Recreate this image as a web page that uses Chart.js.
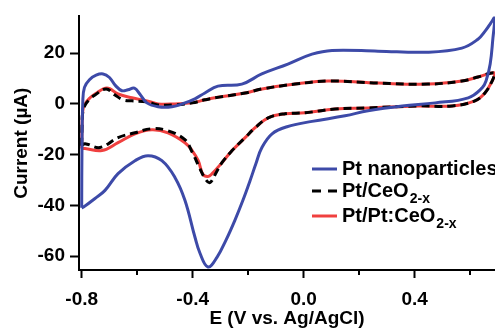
<!DOCTYPE html>
<html>
<head>
<meta charset="utf-8">
<script src="https://cdn.jsdelivr.net/npm/chart.js@4.4.1/dist/chart.umd.min.js"></script>
<style>
  body { margin: 0; background: #fff; }
  #wrap { width: 495px; height: 334px; position: relative; }
</style>
</head>
<body>
<div id="wrap"><canvas id="cvChart"></canvas></div>
<script>
// Pt nanoparticles (blue), one closed CV loop
const ptNanoE = [-0.800, -0.799, -0.796, -0.790, -0.772, -0.748, -0.723, -0.700, -0.678, -0.655, -0.633, -0.610, -0.590, -0.565, -0.525, -0.475, -0.428, -0.392, -0.356, -0.309, -0.223, -0.151, -0.057, 0.030, 0.102, 0.268, 0.448, 0.570, 0.628, 0.653, 0.678, 0.689,
  0.682, 0.672, 0.657, 0.643, 0.593, 0.474, 0.355, 0.232, 0.149, 0.030, -0.060, -0.114, -0.151, -0.172, -0.193, -0.219, -0.248, -0.280, -0.312, -0.345, -0.374, -0.392, -0.428, -0.464, -0.511, -0.561, -0.608, -0.669, -0.716, -0.752, -0.795, -0.800];
const ptNanoI = [-41, -18, 1, 6.5, 9.5, 11.3, 11.8, 10.4, 7.2, 5.2, 5.6, 6.2, 3.8, 0.4, -1.1, -1.1, 0.4, 2, 4.3, 7, 7.8, 11.8, 15.7, 19.6, 21.1, 20.8, 20.4, 22, 25.5, 28.6, 32.5, 34.5,
  26, 15.7, 9, 6.3, 2.4, 0.4, -0.8, -2.7, -4.7, -6.9, -9, -11.8, -17.3, -23.5, -30.2, -38, -45.9, -53.7, -60.4, -64.3, -58.8, -52.5, -38, -29, -22.4, -20.4, -22.4, -27.5, -34.1, -37.3, -40.8, -41];

// Pt/CeO2-x (black dashed)
const ptCeoE = [-0.800, -0.799, -0.796, -0.788, -0.770, -0.752, -0.712, -0.680, -0.650, -0.619, -0.565, -0.525, -0.464, -0.402, -0.356, -0.320, -0.211, -0.150, -0.031, 0.088, 0.268, 0.448, 0.570, 0.628, 0.689,
  0.679, 0.653, 0.617, 0.535, 0.413, 0.232, 0.113, 0.005, -0.067, -0.128, -0.175, -0.211, -0.258, -0.294, -0.320, -0.337, -0.352, -0.374, -0.402, -0.428, -0.489, -0.547, -0.608, -0.669, -0.734, -0.788, -0.800];
const ptCeoI = [-16.5, -10, -3, -0.5, 2, 3.5, 5.9, 3.5, 1.6, 1.2, 0.8, -0.4, -0.4, 0.4, 1.6, 2.4, 4.3, 5.9, 7.8, 9, 8.2, 7.8, 9, 10.6, 12.2,
  9, 4.3, 1.2, -0.8, -0.8, -1.6, -2, -3.5, -3.9, -5.5, -9.4, -13.3, -18.4, -23.1, -28, -31, -30, -25.5, -19, -14.1, -10.6, -9.8, -11.4, -13.3, -17.2, -15.7, -16.5];

// Pt/Pt:CeO2-x (red)
const ptPtCeoE = [-0.800, -0.799, -0.796, -0.788, -0.770, -0.752, -0.709, -0.669, -0.619, -0.565, -0.525, -0.464, -0.402, -0.356, -0.320, -0.211, -0.150, -0.031, 0.088, 0.268, 0.448, 0.570, 0.628, 0.689,
  0.679, 0.653, 0.617, 0.535, 0.413, 0.232, 0.113, 0.005, -0.067, -0.128, -0.175, -0.211, -0.258, -0.294, -0.330, -0.345, -0.363, -0.380, -0.402, -0.428, -0.489, -0.547, -0.608, -0.669, -0.727, -0.788, -0.800];
const ptPtCeoI = [-17.6, -10.6, -2.7, 0, 2.4, 3.9, 6.3, 3.9, 2.4, 1.2, 0, 0, 0.4, 1.6, 2.4, 4.3, 5.9, 7.8, 9, 8.2, 7.8, 9, 10.6, 12.2,
  9, 4.3, 1.2, -0.8, -0.8, -1.6, -2, -3.5, -3.9, -5.5, -9.4, -13.3, -18.4, -23.1, -27.5, -28.6, -27.8, -22.4, -18.4, -15.3, -11.4, -10.2, -11.8, -15.3, -18.4, -17.6, -17.6];

const xMajorTicks = [-0.8, -0.4, 0.0, 0.4];
const xMinorTicks = [-0.6, -0.2, 0.2, 0.6];
const yTicks = [-60, -40, -20, 0, 20];

const legendMain = ['Pt nanoparticles', 'Pt/CeO', 'Pt/Pt:CeO'];
const legendSub = ['', '2-x', '2-x'];

const FONT = "'Liberation Sans', Arial, Helvetica, sans-serif";

const toPoints = (xs, ys) => xs.map((x, i) => ({ x: x, y: ys[i] }));

// minor ticks on x axis are shorter than the major ones
const minorTickPlugin = {
    id: 'minorTicks',
    afterDraw(chart) {
        const sx = chart.scales.x;
        const ctx = chart.ctx;
        ctx.save();
        ctx.strokeStyle = '#000';
        ctx.lineWidth = 2;
        xMinorTicks.forEach(v => {
            const px = Math.round(sx.getPixelForValue(v));
            ctx.beginPath();
            ctx.moveTo(px, sx.top);
            ctx.lineTo(px, sx.top + 5);
            ctx.stroke();
        });
        ctx.restore();
    }
};

// legend with subscripts, drawn inside the plot
const legendPlugin = {
    id: 'subLegend',
    afterDraw(chart) {
        const ctx = chart.ctx;
        const rows = [169, 191, 216];
        ctx.save();
        chart.data.datasets.forEach((ds, i) => {
            const y = rows[i];
            ctx.strokeStyle = ds.borderColor;
            ctx.lineWidth = 3;
            ctx.setLineDash(ds.borderDash ? [9, 7] : []);
            ctx.beginPath();
            ctx.moveTo(312, y);
            ctx.lineTo(337, y);
            ctx.stroke();
            ctx.setLineDash([]);

            ctx.fillStyle = '#000';
            ctx.textBaseline = 'middle';
            ctx.textAlign = 'left';
            ctx.font = 'bold 20px ' + FONT;
            ctx.fillText(legendMain[i], 342, y);
            if (legendSub[i]) {
                const w = ctx.measureText(legendMain[i]).width;
                ctx.font = 'bold 14px ' + FONT;
                ctx.fillText(legendSub[i], 342 + w + 1, y + 8);
            }
        });
        ctx.restore();
    }
};

const data = {
    datasets: [
        {
            label: 'Pt nanoparticles',
            data: toPoints(ptNanoE, ptNanoI),
            borderColor: '#3d4aa8',
            borderWidth: 3
        },
        {
            label: 'Pt/CeO2-x',
            data: toPoints(ptCeoE, ptCeoI),
            borderColor: '#000000',
            borderWidth: 3,
            borderDash: [8, 5]
        },
        {
            label: 'Pt/Pt:CeO2-x',
            data: toPoints(ptPtCeoE, ptPtCeoI),
            borderColor: '#f0403f',
            borderWidth: 3
        }
    ]
};

const config = {
    type: 'scatter',
    data: data,
    options: {
        responsive: true,
        maintainAspectRatio: false,
        animation: false,
        showLine: true,
        elements: {
            point: { radius: 0, hoverRadius: 0 },
            line: { tension: 0.4, fill: false }
        },
        layout: { padding: { top: 15, right: 0, left: 0, bottom: 0 } },
        plugins: {
            legend: { display: false },
            tooltip: { enabled: false }
        },
        scales: {
            x: {
                type: 'linear',
                min: -0.8097,
                max: 0.6894,
                afterBuildTicks: s => { s.ticks = xMajorTicks.map(v => ({ value: v })); },
                afterFit: s => { s.height = 64; },
                ticks: {
                    callback: v => v.toFixed(1),
                    color: '#000',
                    font: { family: FONT, size: 19, weight: 'bold' },
                    padding: 10,
                    maxRotation: 0,
                    autoSkip: false
                },
                grid: {
                    display: true,
                    drawOnChartArea: false,
                    drawTicks: true,
                    tickLength: 8,
                    tickWidth: 2,
                    tickColor: '#000'
                },
                border: { display: true, color: '#000', width: 2 },
                title: {
                    display: true,
                    text: 'E (V vs. Ag/AgCl)',
                    color: '#000',
                    font: { family: FONT, size: 19, weight: 'bold' },
                    padding: { top: 0, bottom: 4 }
                }
            },
            y: {
                type: 'linear',
                min: -65.5,
                max: 34.5,
                afterBuildTicks: s => { s.ticks = yTicks.map(v => ({ value: v })); },
                afterFit: s => { s.width = 79; },
                ticks: {
                    callback: v => String(v),
                    color: '#000',
                    font: { family: FONT, size: 19, weight: 'bold' },
                    padding: 5
                },
                grid: {
                    display: true,
                    drawOnChartArea: false,
                    drawTicks: true,
                    tickLength: 9,
                    tickWidth: 2,
                    tickColor: '#000'
                },
                border: { display: true, color: '#000', width: 2 },
                title: {
                    display: true,
                    text: 'Current (µA)',
                    color: '#000',
                    font: { family: FONT, size: 19, weight: 'bold' },
                    padding: { top: 10, bottom: 0 }
                }
            }
        }
    },
    plugins: [minorTickPlugin, legendPlugin]
};

const cvChart = new Chart(document.getElementById('cvChart'), config);
</script>
</body>
</html>
